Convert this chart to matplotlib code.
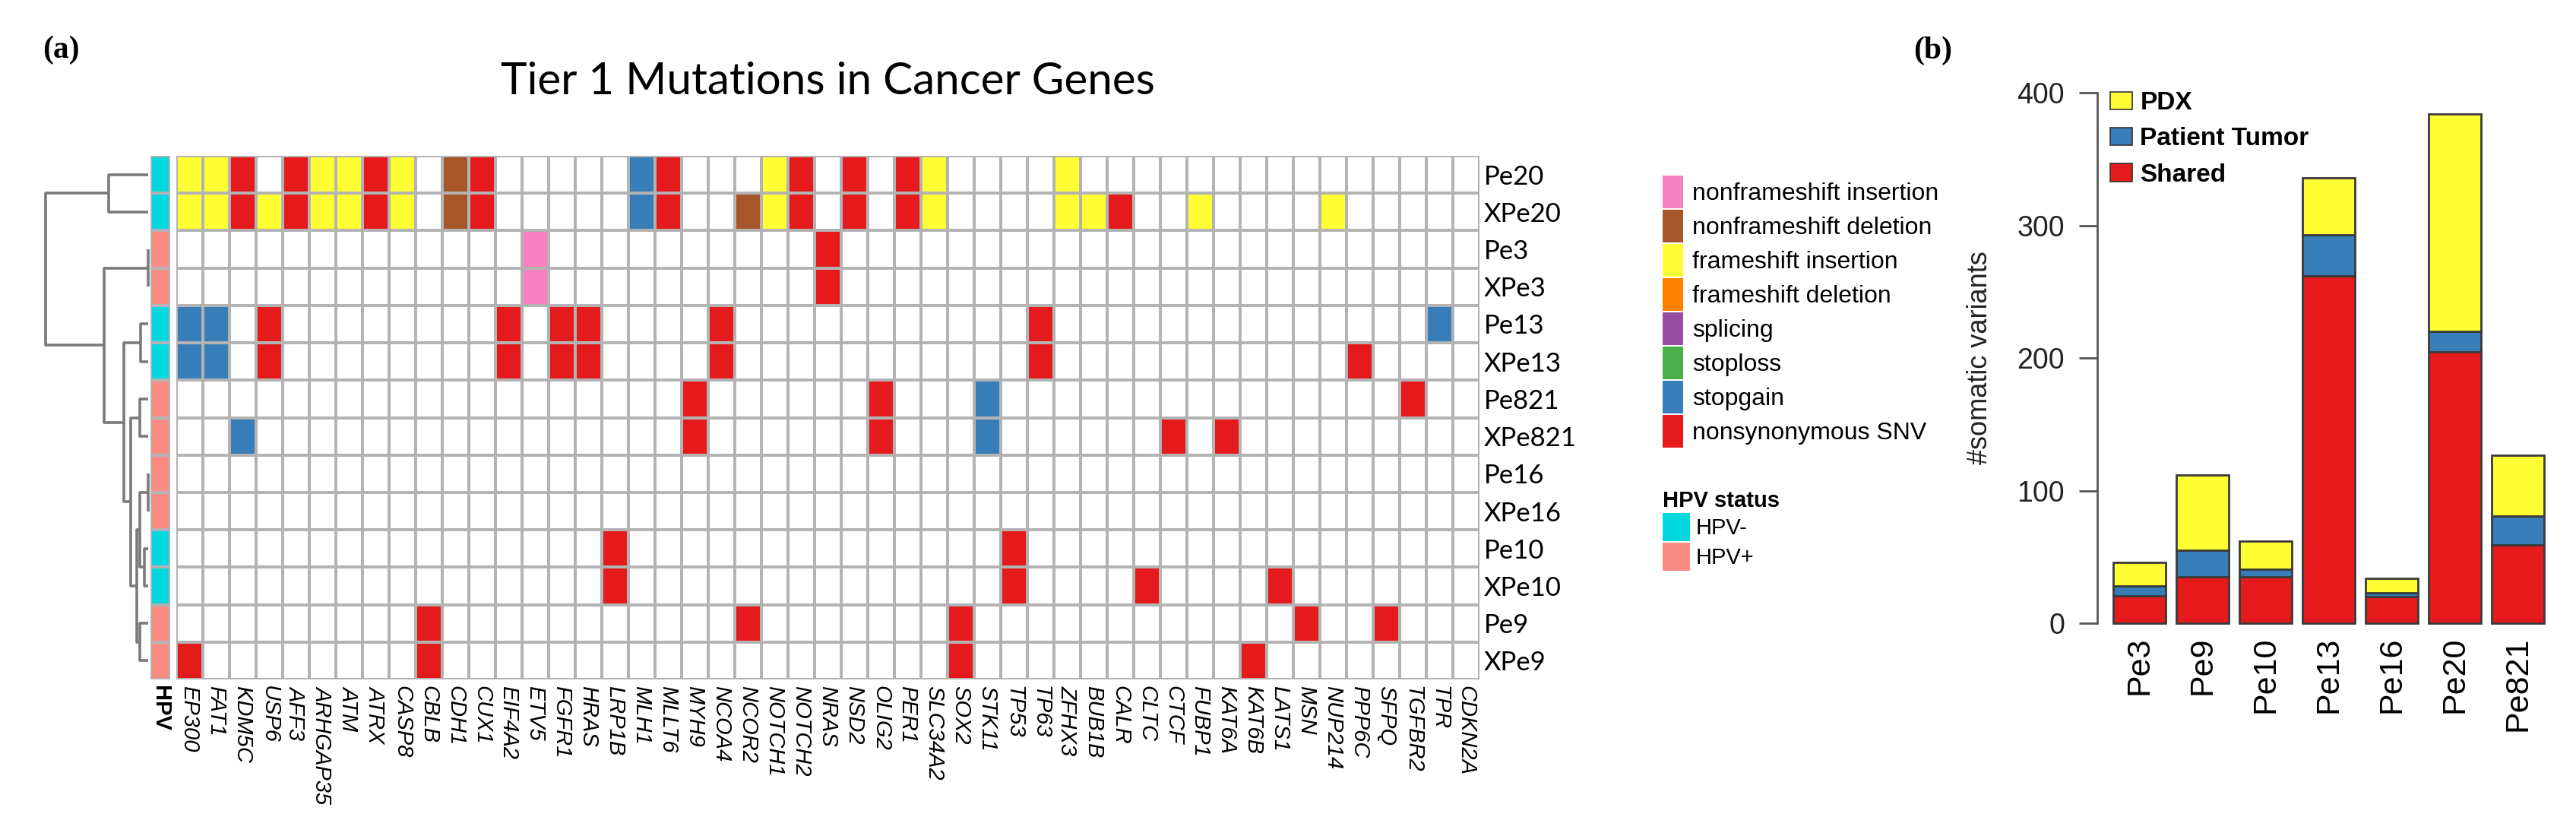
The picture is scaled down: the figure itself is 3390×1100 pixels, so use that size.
import numpy as np
import matplotlib
matplotlib.use('Agg')
import matplotlib.pyplot as plt
from matplotlib.colors import ListedColormap
from matplotlib.patches import Patch

plt.rcParams['font.family'] = ['Liberation Sans', 'DejaVu Sans']

# ---------------- panel (a): tier 1 mutations ----------------
samples = ['Pe20', 'XPe20', 'Pe3', 'XPe3', 'Pe13', 'XPe13', 'Pe821', 'XPe821',
           'Pe16', 'XPe16', 'Pe10', 'XPe10', 'Pe9', 'XPe9']
hpv_status = ['HPV-', 'HPV-', 'HPV+', 'HPV+', 'HPV-', 'HPV-', 'HPV+', 'HPV+',
              'HPV+', 'HPV+', 'HPV-', 'HPV-', 'HPV+', 'HPV+']
genes = ['EP300', 'FAT1', 'KDM5C', 'USP6', 'AFF3', 'ARHGAP35', 'ATM', 'ATRX', 'CASP8',
         'CBLB', 'CDH1', 'CUX1', 'EIF4A2', 'ETV5', 'FGFR1', 'HRAS', 'LRP1B', 'MLH1',
         'MLLT6', 'MYH9', 'NCOA4', 'NCOR2', 'NOTCH1', 'NOTCH2', 'NRAS', 'NSD2', 'OLIG2',
         'PER1', 'SLC34A2', 'SOX2', 'STK11', 'TP53', 'TP63', 'ZFHX3', 'BUB1B', 'CALR',
         'CLTC', 'CTCF', 'FUBP1', 'KAT6A', 'KAT6B', 'LATS1', 'MSN', 'NUP214', 'PPP6C',
         'SFPQ', 'TGFBR2', 'TPR', 'CDKN2A']

mut_types = ['nonframeshift insertion', 'nonframeshift deletion', 'frameshift insertion',
             'frameshift deletion', 'splicing', 'stoploss', 'stopgain', 'nonsynonymous SNV']
mut_colors = ['#F781BF', '#A65628', '#FFFF33', '#FF7F00', '#984EA3', '#4DAF4A',
              '#377EB8', '#E41A1C']
NI, ND, FI, FD, SP, SL, SG, NS = mut_types

pe20 = [('EP300', FI), ('FAT1', FI), ('KDM5C', NS), ('AFF3', NS), ('ARHGAP35', FI),
        ('ATM', FI), ('ATRX', NS), ('CASP8', FI), ('CDH1', ND), ('CUX1', NS), ('MLH1', SG),
        ('MLLT6', NS), ('NOTCH1', FI), ('NOTCH2', NS), ('NSD2', NS), ('PER1', NS),
        ('SLC34A2', FI), ('ZFHX3', FI)]
xpe20 = [('EP300', FI), ('FAT1', FI), ('KDM5C', NS), ('USP6', FI), ('AFF3', NS),
         ('ARHGAP35', FI), ('ATM', FI), ('ATRX', NS), ('CASP8', FI), ('CDH1', ND),
         ('CUX1', NS), ('MLH1', SG), ('MLLT6', NS), ('NCOR2', ND), ('NOTCH1', FI),
         ('NOTCH2', NS), ('NSD2', NS), ('PER1', NS), ('SLC34A2', FI), ('ZFHX3', FI),
         ('BUB1B', FI), ('CALR', NS), ('FUBP1', FI), ('NUP214', FI)]
pe3 = [('ETV5', NI), ('NRAS', NS)]
xpe3 = [('ETV5', NI), ('NRAS', NS)]
pe13 = [('EP300', SG), ('FAT1', SG), ('USP6', NS), ('EIF4A2', NS), ('FGFR1', NS),
        ('HRAS', NS), ('NCOA4', NS), ('TP63', NS), ('TPR', SG)]
xpe13 = [('EP300', SG), ('FAT1', SG), ('USP6', NS), ('EIF4A2', NS), ('FGFR1', NS),
         ('HRAS', NS), ('NCOA4', NS), ('TP63', NS), ('PPP6C', NS)]
pe821 = [('MYH9', NS), ('OLIG2', NS), ('STK11', SG), ('TGFBR2', NS)]
xpe821 = [('KDM5C', SG), ('MYH9', NS), ('OLIG2', NS), ('STK11', SG), ('CTCF', NS),
          ('KAT6A', NS)]
pe16 = []
xpe16 = []
pe10 = [('LRP1B', NS), ('TP53', NS)]
xpe10 = [('LRP1B', NS), ('TP53', NS), ('CLTC', NS), ('LATS1', NS)]
pe9 = [('CBLB', NS), ('NCOR2', NS), ('SOX2', NS), ('MSN', NS), ('SFPQ', NS)]
xpe9 = [('EP300', NS), ('CBLB', NS), ('SOX2', NS), ('KAT6B', NS)]
sample_mutations = [pe20, xpe20, pe3, xpe3, pe13, xpe13, pe821, xpe821,
                    pe16, xpe16, pe10, xpe10, pe9, xpe9]

# hierarchical clustering of samples: (child, child, merge height)
dendro_merges = [('Pe20', 'XPe20', 0.385),   # n0
                 ('Pe3', 'XPe3', 0.0),       # n1
                 ('Pe13', 'XPe13', 0.074),   # n2
                 ('Pe821', 'XPe821', 0.081), # n3
                 ('Pe16', 'XPe16', 0.0),     # n4
                 ('Pe10', 'XPe10', 0.037),   # n5
                 ('Pe9', 'XPe9', 0.081),     # n6
                 ('n4', 'n5', 0.081),        # n7
                 ('n7', 'n6', 0.111),        # n8
                 ('n3', 'n8', 0.17),         # n9
                 ('n2', 'n9', 0.237),        # n10
                 ('n1', 'n10', 0.43),        # n11
                 ('n0', 'n11', 1.0)]         # n12

hpv_labels = ['HPV-', 'HPV+']
hpv_colors = ['#00D9DF', '#F98B82']

# ---------------- panel (b): somatic variants ----------------
bar_samples = ['Pe3', 'Pe9', 'Pe10', 'Pe13', 'Pe16', 'Pe20', 'Pe821']
shared = [21, 35, 35, 262, 20, 205, 59]
patient_tumor = [7, 20, 6, 31, 3, 15, 22]
pdx = [18, 57, 21, 43, 11, 164, 46]
bar_colors = {'PDX': '#FFFF33', 'Patient Tumor': '#377EB8', 'Shared': '#E41A1C'}

W, H = 3391, 1100
fig = plt.figure(figsize=(W / 100, H / 100), dpi=100)


def rect(x0, y0, x1, y1):
    # pixel box (top-left origin) -> figure fraction
    return [x0 / W, 1 - y1 / H, (x1 - x0) / W, (y1 - y0) / H]


grid_col = '#B3B3B3'
n_rows, n_cols = len(samples), len(genes)

# heatmap
ax = fig.add_axes(rect(232, 205, 1947, 894))
mat = np.zeros((n_rows, n_cols))
for i, muts in enumerate(sample_mutations):
    for g, t in muts:
        mat[i, genes.index(g)] = mut_types.index(t) + 1
cmap = ListedColormap(['white'] + mut_colors)
ax.pcolormesh(np.arange(n_cols + 1) - 0.5, np.arange(n_rows + 1) - 0.5, mat,
              cmap=cmap, vmin=-0.5, vmax=len(mut_types) + 0.5,
              edgecolors=grid_col, linewidth=1.6)
ax.set_xlim(-0.5, n_cols - 0.5)
ax.set_ylim(n_rows - 0.5, -0.5)
for s in ax.spines.values():
    s.set_visible(False)
ax.yaxis.tick_right()
ax.set_yticks(range(n_rows))
ax.set_yticklabels(samples, family=['Lato', 'DejaVu Sans'], fontsize=25)
ax.set_xticks(range(n_cols))
ax.set_xticklabels(genes, rotation=270, style='italic', fontsize=21, va='top', ha='center')
ax.tick_params(length=0)
ax.tick_params(axis='y', pad=4)
ax.tick_params(axis='x', pad=6)

# HPV annotation column
ax_h = fig.add_axes(rect(198, 205, 224, 894))
hpv_idx = np.array([[hpv_labels.index(h)] for h in hpv_status])
ax_h.pcolormesh([-0.5, 0.5], np.arange(n_rows + 1) - 0.5, hpv_idx,
                cmap=ListedColormap(hpv_colors), vmin=-0.5, vmax=1.5,
                edgecolors=grid_col, linewidth=1.6)
ax_h.set_xlim(-0.5, 0.5)
ax_h.set_ylim(n_rows - 0.5, -0.5)
for s in ax_h.spines.values():
    s.set_visible(False)
ax_h.set_yticks([])
ax_h.set_xticks([0])
ax_h.set_xticklabels(['HPV'], rotation=270, fontweight='bold', fontsize=21, va='top')
ax_h.tick_params(length=0, pad=6)

# dendrogram
ax_d = fig.add_axes(rect(60, 205, 195, 894))
node_y = {s: i for i, s in enumerate(samples)}
node_h = {s: 0.0 for s in samples}
for k, (a, b, h) in enumerate(dendro_merges):
    ya, yb = node_y[a], node_y[b]
    ax_d.plot([node_h[a], h, h, node_h[b]], [ya, ya, yb, yb], color='#7A7A7A',
              lw=2.6, solid_capstyle='butt', clip_on=False)
    node_y[f'n{k}'] = (ya + yb) / 2
    node_h[f'n{k}'] = h
ax_d.set_xlim(1.0, 0.0)
ax_d.set_ylim(n_rows - 0.5, -0.5)
ax_d.axis('off')

fig.text((232 + 1947) / 2 / W, 1 - 124 / H, 'Tier 1 Mutations in Cancer Genes',
         ha='center', va='baseline', family=['Lato', 'DejaVu Sans'], fontsize=42)

# legends of panel (a)
mut_handles = [Patch(facecolor=c, edgecolor='none') for c in mut_colors]
fig.legend(mut_handles, mut_types, loc='upper left', bbox_to_anchor=(2188 / W, 1 - 231 / H),
           frameon=False, borderaxespad=0, borderpad=0, fontsize=23, handlelength=0.85,
           handleheight=1.697, labelspacing=0.06, handletextpad=0.38)
hpv_handles = [Patch(facecolor=c, edgecolor='none') for c in hpv_colors]
fig.legend(hpv_handles, hpv_labels, loc='upper left', bbox_to_anchor=(2188 / W, 1 - 645 / H),
           frameon=False, borderaxespad=0, borderpad=0, fontsize=21, handlelength=1.23,
           handleheight=1.57, labelspacing=0.07, handletextpad=0.28, title='HPV status',
           title_fontproperties={'weight': 'bold', 'size': 21}, alignment='left')

# ---------------- panel (b) ----------------
ax_b = fig.add_axes(rect(2760, 96, 3355, 829))
x = np.arange(len(bar_samples))
bot2 = np.array(shared) + np.array(patient_tumor)
kw = dict(width=0.84, edgecolor='#3A3A3A', linewidth=2)
ax_b.bar(x, shared, color=bar_colors['Shared'], **kw)
ax_b.bar(x, patient_tumor, bottom=shared, color=bar_colors['Patient Tumor'], **kw)
ax_b.bar(x, pdx, bottom=bot2, color=bar_colors['PDX'], **kw)
ax_b.set_xlim(-0.67, 6.5)
ax_b.set_ylim(-5, 415)
for side in ['top', 'right', 'bottom']:
    ax_b.spines[side].set_visible(False)
ax_b.spines['left'].set_bounds(0, 400)
ax_b.spines['left'].set_color('#555555')
ax_b.spines['left'].set_linewidth(2)
ax_b.set_yticks([0, 100, 200, 300, 400])
ax_b.tick_params(axis='y', length=17, width=2, color='#555555', pad=14, labelsize=27,
                 labelcolor='#222222')
ax_b.set_xticks(x)
ax_b.set_xticklabels(bar_samples, rotation=90, va='top', ha='center',
                     family=['Liberation Sans Narrow', 'Liberation Sans'], fontsize=31)
ax_b.tick_params(axis='x', length=0, pad=6)
fig.text(2606 / W, 1 - 471 / H, '#somatic variants', rotation=90, ha='center', va='center',
         fontsize=26, color='#222222')

bar_handles = [Patch(facecolor=bar_colors[k], edgecolor='#333333', linewidth=1.2)
               for k in ['PDX', 'Patient Tumor', 'Shared']]
fig.legend(bar_handles, ['PDX', 'Patient Tumor', 'Shared'], loc='upper left',
           bbox_to_anchor=(2777 / W, 1 - 120 / H), frameon=False, borderaxespad=0,
           borderpad=0, prop={'weight': 'bold', 'size': 24}, handlelength=0.88,
           handleheight=0.7, labelspacing=0.49, handletextpad=0.3)

# panel letters
fig.text(80 / W, 1 - 66 / H, '(a)', ha='center', va='center', fontsize=30,
         fontweight='bold', family=['Liberation Serif', 'DejaVu Serif'])
fig.text(2544 / W, 1 - 67 / H, '(b)', ha='center', va='center', fontsize=30,
         fontweight='bold', family=['Liberation Serif', 'DejaVu Serif'])

fig.savefig('out.png', dpi=100)
